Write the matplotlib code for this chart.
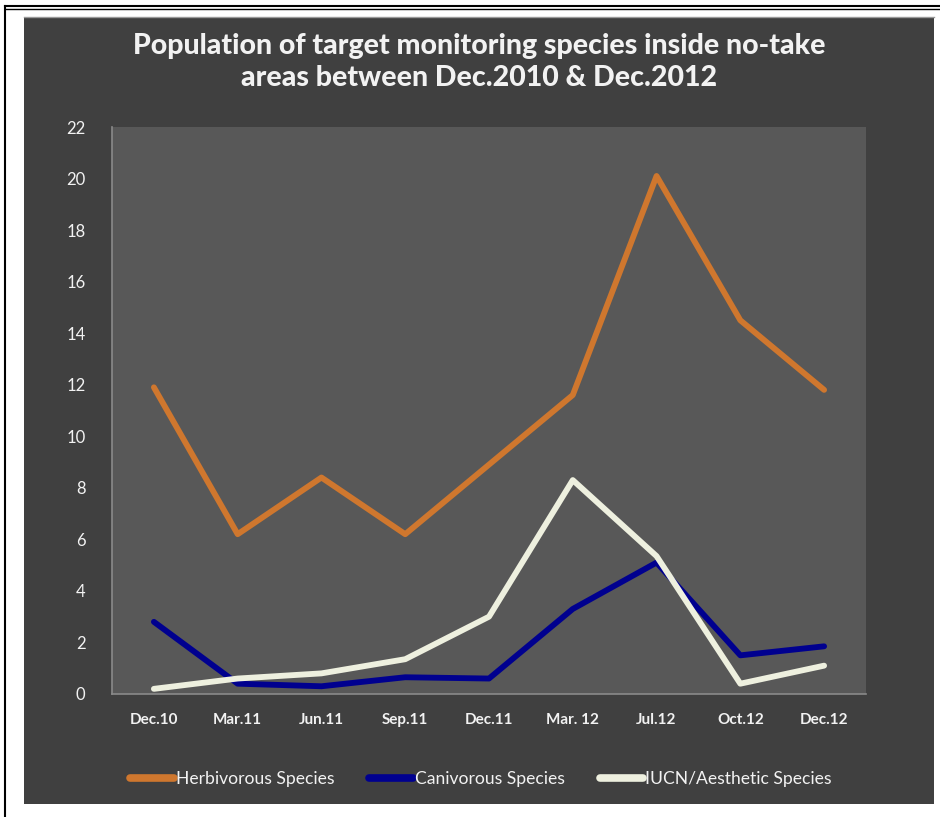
import matplotlib
matplotlib.use("Agg")
import matplotlib.pyplot as plt
from matplotlib.patches import Rectangle
from matplotlib.lines import Line2D

# survey dates and species counts
months = ["Dec.10", "Mar.11", "Jun.11", "Sep.11", "Dec.11", "Mar. 12", "Jul.12", "Oct.12", "Dec.12"]
herbivorous = [11.9, 6.2, 8.4, 6.2, 8.9, 11.6, 20.1, 14.5, 11.8]
canivorous = [2.8, 0.4, 0.3, 0.65, 0.6, 3.3, 5.1, 1.5, 1.85]
iucn_aesthetic = [0.2, 0.6, 0.8, 1.35, 3.0, 8.3, 5.35, 0.4, 1.1]

series_names = ["Herbivorous Species", "Canivorous Species", "IUCN/Aesthetic Species"]
series_colors = ["#CF772E", "#00008F", "#EEF0DF"]

text_color = "#F2F2F2"
plt.rcParams["font.family"] = ["Lato", "DejaVu Sans"]

fig = plt.figure(figsize=(9.4, 8.17), dpi=100)
fig.patch.set_facecolor("white")

# dark chart panel and outer frame
fig.add_artist(Rectangle((24 / 940, 1 - 804 / 817), 910 / 940, 787 / 817,
                         transform=fig.transFigure, facecolor="#404040",
                         edgecolor="none", zorder=0))
fig.add_artist(Line2D([24 / 940, 934 / 940], [1 - 17 / 817] * 2,
                      transform=fig.transFigure, color="#9a9a9a", lw=1))
fig.add_artist(Line2D([5 / 940, 5 / 940], [0, 1 - 6 / 817],
                      transform=fig.transFigure, color="black", lw=1.5))
fig.add_artist(Line2D([5 / 940, 1], [1 - 6 / 817] * 2,
                      transform=fig.transFigure, color="black", lw=1.5))
fig.add_artist(Line2D([5 / 940, 1], [1 - 9 / 817] * 2,
                      transform=fig.transFigure, color="black", lw=1))

ax = fig.add_axes([112 / 940, 1 - 694 / 817, 754 / 940, 567 / 817])
ax.set_facecolor("#585858")

x = range(len(months))
for values, name, color in zip([herbivorous, canivorous, iucn_aesthetic], series_names, series_colors):
    ax.plot(x, values, color=color, lw=4.2, solid_capstyle="round",
            solid_joinstyle="round", label=name)

ax.set_xlim(-0.5, len(months) - 0.5)
ax.set_ylim(0, 22)
ax.set_yticks(range(0, 23, 2))
ax.set_xticks(list(x))
ax.set_xticklabels(months, fontweight="bold")
ax.tick_params(axis="both", length=0, colors=text_color)
ax.tick_params(axis="y", pad=19, labelsize=12)
ax.tick_params(axis="x", pad=14, labelsize=11)

for side in ["top", "right"]:
    ax.spines[side].set_visible(False)
for side in ["left", "bottom"]:
    ax.spines[side].set_color("#8a8a8a")
    ax.spines[side].set_linewidth(1.2)

fig.text(479 / 940, 1 - 62 / 817,
         "Population of target monitoring species inside no-take\nareas between Dec.2010 & Dec.2012",
         ha="center", va="center", color=text_color, fontsize=20.5,
         fontweight="black", linespacing=1.3)

leg = fig.legend(loc="center", bbox_to_anchor=(481 / 940, 1 - 779 / 817), ncol=3,
                 frameon=False, fontsize=12.6, labelcolor=text_color,
                 handlelength=2.5, handletextpad=0.1, columnspacing=2.0)
for handle in leg.get_lines():
    handle.set_linewidth(5.5)

fig.savefig("out.png", dpi=100, facecolor=fig.get_facecolor())
